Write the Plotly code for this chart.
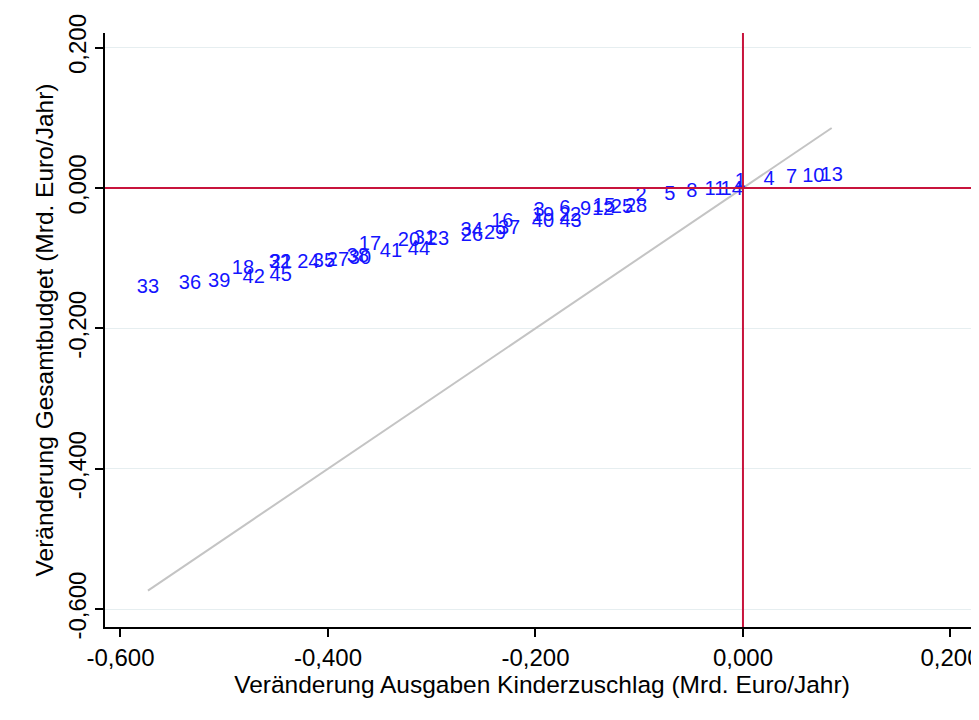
import plotly.graph_objects as go

# Scenario labels and values (Mrd. Euro/Jahr)
labels = [str(i) for i in range(1, 46)]
x_kiz = [-0.0026, -0.0983, -0.1966, 0.0251, -0.0704, -0.1716, 0.0469, -0.0494, -0.1516, 0.0678,
         -0.0270, -0.1349, 0.0855, -0.0109, -0.1340, -0.2320, -0.3595, -0.4819, -0.1928, -0.3219,
         -0.4453, -0.1667, -0.2940, -0.4190, -0.1166, -0.2612, -0.3904, -0.1031, -0.2390, -0.3692,
         -0.3065, -0.4463, -0.5735, -0.2615, -0.4039, -0.5330, -0.2255, -0.3711, -0.5048, -0.1928,
         -0.3393, -0.4716, -0.1661, -0.3123, -0.4456]
y_budget = [0.0090, -0.0114, -0.0328, 0.0114, -0.0100, -0.0299, 0.0142, -0.0061, -0.0313, 0.0152,
            -0.0028, -0.0313, 0.0175, -0.0028, -0.0271, -0.0489, -0.0812, -0.1154, -0.0399, -0.0751,
            -0.1068, -0.0395, -0.0741, -0.1073, -0.0285, -0.0679, -0.1036, -0.0271, -0.0655, -0.1011,
            -0.0726, -0.1075, -0.1425, -0.0608, -0.1050, -0.1368, -0.0584, -0.0990, -0.1346, -0.0491,
            -0.0907, -0.1286, -0.0484, -0.0883, -0.1254]

tick_vals = [-0.6, -0.4, -0.2, 0.0, 0.2]
tick_text = ["-0,600", "-0,400", "-0,200", "0,000", "0,200"]

FONT = "Liberation Sans, Arial, sans-serif"
RED = "#C8143C"

fig = go.Figure()

# 45-degree reference line over the data range
lo, hi = min(x_kiz), max(x_kiz)
fig.add_trace(go.Scatter(x=[lo, hi], y=[lo, hi], mode="lines",
                         line=dict(color="#C4C4C4", width=2), hoverinfo="skip",
                         showlegend=False))

fig.add_hline(y=0, line=dict(color=RED, width=2), layer="above")
fig.add_vline(x=0, line=dict(color=RED, width=2), layer="above")

fig.add_trace(go.Scatter(x=x_kiz, y=y_budget, mode="text", text=labels,
                         textposition="middle center",
                         textfont=dict(family=FONT, size=20, color="#1414FF"),
                         showlegend=False))

fig.update_layout(
    width=979, height=720,
    margin=dict(l=97, r=8, t=25, b=101),
    paper_bgcolor="white", plot_bgcolor="white",
    font=dict(family=FONT, size=24, color="black"),
    showlegend=False,
)
fig.update_xaxes(
    range=[-0.6149, 0.2275], tickvals=tick_vals, ticktext=tick_text, automargin=False,
    showgrid=False, zeroline=False, showline=True, linecolor="black", linewidth=1.5,
    ticks="outside", ticklen=8, tickwidth=1.5, tickcolor="black",
    tickfont=dict(family=FONT, size=24),
    title=dict(text="Veränderung Ausgaben Kinderzuschlag (Mrd. Euro/Jahr)",
               font=dict(family=FONT, size=24.5), standoff=2),
)
fig.update_yaxes(
    range=[-0.6254, 0.2208], tickvals=tick_vals, ticktext=tick_text, tickangle=-90,
    automargin=False, ticklabelstandoff=0,
    showgrid=True, gridcolor="#E6EEF0", gridwidth=1,
    zeroline=False, showline=True, linecolor="black", linewidth=1.5,
    ticks="outside", ticklen=8, tickwidth=1.5, tickcolor="black",
    tickfont=dict(family=FONT, size=24),
    title=dict(text="Veränderung Gesamtbudget (Mrd. Euro/Jahr)",
               font=dict(family=FONT, size=24.5), standoff=3),
)

fig.write_html("out.html")
